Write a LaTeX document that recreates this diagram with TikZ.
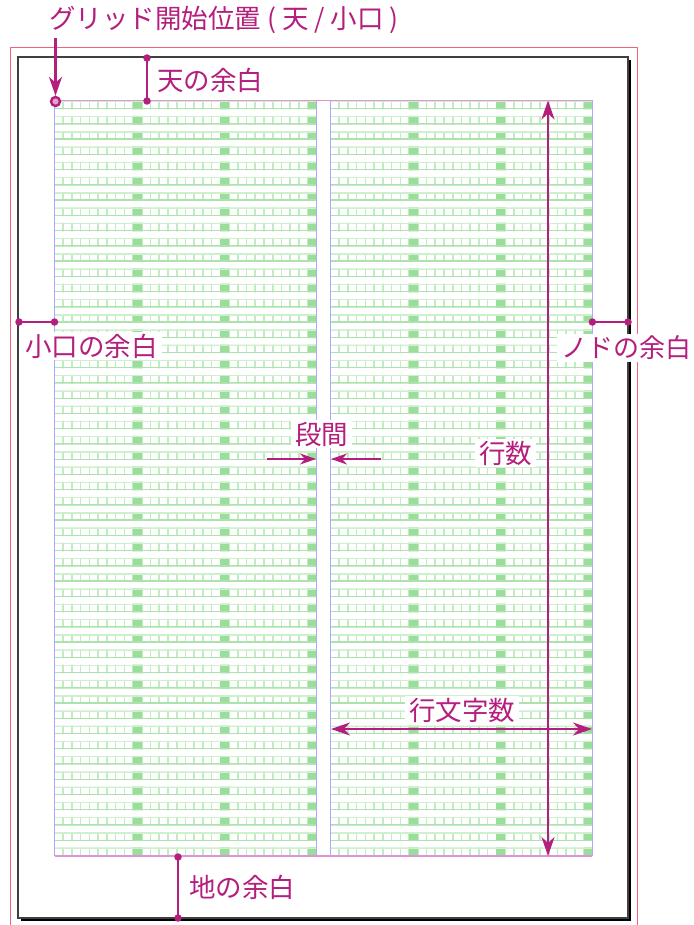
\documentclass[tikz,border=0pt]{standalone}
\usepackage{fontspec}
\setmainfont{Noto Sans CJK JP}
\usetikzlibrary{arrows.meta}
\definecolor{mag}{RGB}{180,30,125}
\definecolor{pagered}{RGB}{240,100,120}
\definecolor{cellline}{RGB}{195,235,195}
\definecolor{rowtop}{RGB}{205,240,205}
\definecolor{rowbot}{RGB}{172,226,172}
\definecolor{darkcell}{RGB}{155,222,155}
\definecolor{gridblue}{RGB}{170,170,255}
\definecolor{gridpink}{RGB}{222,150,210}
\newcommand\drawgridcolumn[1]{%
  \begin{scope}
    \clip \foreach \k in {0,...,49} {(#1,100.7+\k*15.24) rectangle ++(261.9,8.7)};
    \foreach \j in {0,...,30} \draw[cellline,line width=1.6] (#1+\j*8.73,100) -- ++(0,757);
    \foreach \j in {9,19,29} \fill[darkcell] (#1+\j*8.73,100) rectangle ++(8.73,757);
    \foreach \k in {0,...,49} {
      \draw[rowtop,line width=1.5] (#1,101.4+\k*15.24) -- ++(261.9,0);
      \draw[rowbot,line width=1.4] (#1,108.7+\k*15.24) -- ++(261.9,0);
    }
  \end{scope}
}
\begin{document}
\begin{tikzpicture}[x=1pt,y=-1pt,
  lbl/.style={text=mag,font=\fontsize{26.5}{26.5}\selectfont,inner sep=0pt,anchor=west},
  lblbg/.style={lbl,fill=white,inner xsep=4pt,inner ysep=2pt},
  mline/.style={draw=mag,line width=2},
  arr/.style={draw=mag,line width=2.5,-{Stealth[length=19pt,width=13pt,inset=6pt]}},
  darr/.style={draw=mag,line width=2.5,{Stealth[length=19pt,width=13pt,inset=6pt]}-{Stealth[length=19pt,width=13pt,inset=6pt]}},
  dot/.style={circle,fill=mag,inner sep=0pt,minimum size=7.5pt},
  ring/.style={circle,draw=mag,line width=2.4,fill=mag!40,inner sep=0pt,minimum size=9pt}]
\useasboundingbox (0,0) rectangle (693,925);
% page
\draw[pagered,line width=1] (10,48) rectangle (637,940);
\fill[black] (21,60) rectangle (631,921);
\draw[black!75,line width=1.2,fill=white] (18,57) rectangle (628,918);
% grid
\drawgridcolumn{54.5}
\drawgridcolumn{330.5}
\draw[gridblue,line width=1.2] (54.5,100.5) -- (54.5,856);
\draw[gridblue,line width=1.2] (316.4,100.5) -- (316.4,856);
\draw[gridblue,line width=1.2] (330.6,100.5) -- (330.6,856);
\draw[gridblue,line width=1.2] (592.4,100.5) -- (592.4,856);
\draw[gridpink,line width=1.4] (54.5,100.6) -- (592.4,100.6);
\draw[gridpink,line width=1.4] (54.5,856) -- (592.4,856);
% grid start
\node[ring] (gs) at (55.5,101.5) {};
\coordinate (gsTop) at (55.5,38);
\draw[arr] (gsTop) -- (gs);
\node[lbl] (title) at (49,20) {グリッド開始位置 ( 天 / 小口 )};
% top margin
\node[dot] (t1) at (147,58) {};
\node[dot] (t2) at (147,101) {};
\draw[mline] (t1.center) -- (t2.center);
\node[lbl] (tl) at (157,80) {天の余白};
% fore-edge margin
\node[dot] (k1) at (19,322) {};
\node[dot] (k2) at (54.5,322) {};
\draw[mline] (k1.center) -- (k2.center);
% gutter margin
\node[dot] (n1) at (592.4,322) {};
\node[dot] (n2) at (628,322) {};
\draw[mline] (n1.center) -- (n2.center);
% bottom margin
\node[dot] (c1) at (178,857) {};
\node[dot] (c2) at (178,918) {};
\draw[mline] (c1.center) -- (c2.center);
\node[lbl] (cl) at (189,887) {地の余白};
% column gap arrows
\coordinate (dkA) at (267,459);
\coordinate (dkAe) at (316,459);
\coordinate (dkB) at (381,459);
\coordinate (dkBe) at (331,459);
\draw[arr,line width=2,-{Stealth[length=16pt,width=11pt,inset=5pt]}] (dkA) -- (dkAe);
\draw[arr,line width=2,-{Stealth[length=16pt,width=11pt,inset=5pt]}] (dkB) -- (dkBe);
% lines count
\coordinate (gy1) at (548,100.5);
\coordinate (gy2) at (548,856);
\draw[darr] (gy1) -- (gy2);
% chars per line
\coordinate (gx1) at (331,729);
\coordinate (gx2) at (592,729);
\draw[darr] (gx1) -- (gx2);
% labels with white background
\node[lblbg] (kl) at (21,346) {小口の余白};
\node[lblbg,font=\fontsize{26}{26}\selectfont] (nl) at (557,348) {ノドの余白};
\node[lblbg] (dl) at (291,434) {段間};
\node[lblbg] (gl) at (475,453) {行数};
\node[lblbg] (ml) at (405,710) {行文字数};
\end{tikzpicture}
\end{document}
